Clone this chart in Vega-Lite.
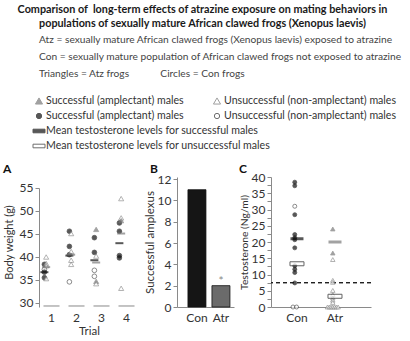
{
  "$schema": "https://vega.github.io/schema/vega-lite/v6.json",
  "padding": {"left": 3, "top": 4, "right": 0, "bottom": 0},
  "background": "white",
  "config": {
    "view": {"stroke": null},
    "font": "Lato",
    "axis": {"labelFont": "Lato", "titleFont": "Lato", "labelColor": "#333", "titleColor": "#333", "domainColor": "#8a8a8a", "tickColor": "#8a8a8a", "grid": false, "titleFontWeight": "normal", "labelFontSize": 12, "titleFontSize": 11.5, "tickSize": 4, "labelPadding": 2},
    "title": {"font": "Lato"}
  },
  "title": {
    "text": ["Comparison of \u00a0long-term effects of atrazine exposure on mating behaviors in", "populations of sexually mature African clawed frogs (Xenopus laevis)"],
    "anchor": "middle", "fontSize": 10.8, "fontWeight": "bold", "color": "#1a1a1a", "lineHeight": 13.5, "offset": 6
  },
  "datasets": {
    "legend": [
      {"row": 1, "col": 1, "sym": "AtzS", "label": "Successful (amplectant) males"},
      {"row": 1, "col": 2, "sym": "AtzU", "label": "Unsuccessful (non-amplectant) males"},
      {"row": 2, "col": 1, "sym": "ConS", "label": "Successful (amplectant) males"},
      {"row": 2, "col": 2, "sym": "ConU", "label": "Unsuccessful (non-amplectant) males"},
      {"row": 3, "col": 1, "sym": "MeanS", "label": "Mean testosterone levels for successful males"},
      {"row": 4, "col": 1, "sym": "MeanU", "label": "Mean testosterone levels for unsuccessful males"}
    ],
    "a_points": [
      {"trial": 1, "group": "Con", "sym": "ConS", "weight": 38.4},
      {"trial": 1, "group": "Con", "sym": "ConU", "weight": 37.3},
      {"trial": 1, "group": "Con", "sym": "ConS", "weight": 36.7},
      {"trial": 1, "group": "Con", "sym": "ConS", "weight": 35.5},
      {"trial": 1, "group": "Atz", "sym": "AtzU", "weight": 40.0},
      {"trial": 1, "group": "Atz", "sym": "AtzU", "weight": 38.6},
      {"trial": 1, "group": "Atz", "sym": "AtzU", "weight": 38.1},
      {"trial": 1, "group": "Atz", "sym": "AtzU", "weight": 35.3},
      {"trial": 2, "group": "Con", "sym": "ConS", "weight": 45.6},
      {"trial": 2, "group": "Con", "sym": "ConS", "weight": 42.3},
      {"trial": 2, "group": "Con", "sym": "ConS", "weight": 40.5},
      {"trial": 2, "group": "Con", "sym": "ConU", "weight": 34.6},
      {"trial": 2, "group": "Atz", "sym": "AtzU", "weight": 45.1},
      {"trial": 2, "group": "Atz", "sym": "AtzU", "weight": 41.2},
      {"trial": 2, "group": "Atz", "sym": "AtzU", "weight": 39.3},
      {"trial": 2, "group": "Atz", "sym": "AtzU", "weight": 38.4},
      {"trial": 3, "group": "Con", "sym": "ConS", "weight": 44.2},
      {"trial": 3, "group": "Con", "sym": "ConS", "weight": 41.0},
      {"trial": 3, "group": "Con", "sym": "ConU", "weight": 37.1},
      {"trial": 3, "group": "Con", "sym": "ConU", "weight": 35.8},
      {"trial": 3, "group": "Atz", "sym": "AtzS", "weight": 46.0},
      {"trial": 3, "group": "Atz", "sym": "AtzU", "weight": 40.2},
      {"trial": 3, "group": "Atz", "sym": "AtzS", "weight": 34.7},
      {"trial": 3, "group": "Atz", "sym": "AtzU", "weight": 34.2},
      {"trial": 4, "group": "Con", "sym": "ConS", "weight": 47.4},
      {"trial": 4, "group": "Con", "sym": "ConS", "weight": 45.6},
      {"trial": 4, "group": "Con", "sym": "ConS", "weight": 40.3},
      {"trial": 4, "group": "Con", "sym": "ConS", "weight": 39.8},
      {"trial": 4, "group": "Atz", "sym": "AtzU", "weight": 52.7},
      {"trial": 4, "group": "Atz", "sym": "AtzU", "weight": 48.5},
      {"trial": 4, "group": "Atz", "sym": "AtzS", "weight": 47.9},
      {"trial": 4, "group": "Atz", "sym": "AtzU", "weight": 33.2}
    ],
    "a_means": [
      {"trial": 1, "group": "Con", "sym": "ConS", "weight": 36.7},
      {"trial": 1, "group": "Atz", "sym": "AtzS", "weight": 37.8},
      {"trial": 2, "group": "Con", "sym": "ConS", "weight": 40.3},
      {"trial": 2, "group": "Atz", "sym": "AtzS", "weight": 40.5},
      {"trial": 3, "group": "Con", "sym": "ConS", "weight": 39.3},
      {"trial": 3, "group": "Atz", "sym": "AtzS", "weight": 38.8},
      {"trial": 4, "group": "Con", "sym": "ConS", "weight": 43.0},
      {"trial": 4, "group": "Atz", "sym": "AtzS", "weight": 45.1}
    ],
    "b": [
      {"cat": "Con", "n": 11, "sig": ""},
      {"cat": "Atr", "n": 2, "sig": "*"}
    ],
    "c_points": [
      {"group": "Con", "sym": "ConS", "t": 38.4, "tie": 4},
      {"group": "Con", "sym": "ConS", "t": 37.3, "tie": 4},
      {"group": "Con", "sym": "ConS", "t": 28.4, "tie": 4},
      {"group": "Con", "sym": "ConS", "t": 22.3, "tie": 4},
      {"group": "Con", "sym": "ConS", "t": 21.3, "tie": 4},
      {"group": "Con", "sym": "ConS", "t": 20.7, "tie": 4},
      {"group": "Con", "sym": "ConS", "t": 18.2, "tie": 4},
      {"group": "Con", "sym": "ConS", "t": 12.7, "tie": 4},
      {"group": "Con", "sym": "ConS", "t": 11.6, "tie": 4},
      {"group": "Con", "sym": "ConS", "t": 10.6, "tie": 4},
      {"group": "Con", "sym": "ConS", "t": 7.4, "tie": 4},
      {"group": "Con", "sym": "ConU", "t": 31.0, "tie": 4},
      {"group": "Con", "sym": "ConU", "t": 0, "tie": 3},
      {"group": "Con", "sym": "ConU", "t": 0, "tie": 5},
      {"group": "Atr", "sym": "AtzS", "t": 24.0, "tie": 4},
      {"group": "Atr", "sym": "AtzS", "t": 16.6, "tie": 4},
      {"group": "Atr", "sym": "AtzU", "t": 14.6, "tie": 4},
      {"group": "Atr", "sym": "AtzU", "t": 8.2, "tie": 4},
      {"group": "Atr", "sym": "AtzU", "t": 7.6, "tie": 4},
      {"group": "Atr", "sym": "AtzU", "t": 5.1, "tie": 4},
      {"group": "Atr", "sym": "AtzU", "t": 3.8, "tie": 4},
      {"group": "Atr", "sym": "AtzU", "t": 2.8, "tie": 4},
      {"group": "Atr", "sym": "AtzU", "t": 2.1, "tie": 4},
      {"group": "Atr", "sym": "AtzU", "t": 1.4, "tie": 4},
      {"group": "Atr", "sym": "AtzU", "t": 0, "tie": 1},
      {"group": "Atr", "sym": "AtzU", "t": 0, "tie": 2},
      {"group": "Atr", "sym": "AtzU", "t": 0, "tie": 3},
      {"group": "Atr", "sym": "AtzU", "t": 0, "tie": 4},
      {"group": "Atr", "sym": "AtzU", "t": 0, "tie": 5},
      {"group": "Atr", "sym": "AtzU", "t": 0, "tie": 6},
      {"group": "Atr", "sym": "AtzU", "t": 0, "tie": 7}
    ],
    "c_means": [
      {"group": "Con", "sym": "ConS", "status": "S", "t": 21.0},
      {"group": "Con", "sym": "ConU", "status": "U", "t": 13.3},
      {"group": "Atr", "sym": "AtzS", "status": "S", "t": 20.0},
      {"group": "Atr", "sym": "AtzU", "status": "U", "t": 3.3}
    ]
  },
  "spacing": 11,
  "vconcat": [
    {
      "width": 178,
      "height": 45,
      "title": {
        "text": ["Atz = sexually mature African clawed frogs (Xenopus laevis) exposed to atrazine", "Con = sexually mature population of African clawed frogs not exposed to atrazine", "Triangles = Atz frogs\u00a0\u00a0\u00a0\u00a0\u00a0\u00a0\u00a0\u00a0\u00a0\u00a0\u00a0 Circles = Con frogs"],
        "anchor": "start", "frame": "group", "fontSize": 10.2, "fontWeight": "normal", "color": "#444", "lineHeight": 17, "offset": 17
      },
      "data": {"name": "legend"},
      "encoding": {
        "x": {"field": "col", "type": "ordinal", "scale": {"type": "point", "padding": 0}, "axis": null},
        "y": {"field": "row", "type": "ordinal", "scale": {"type": "point", "padding": 0}, "axis": null}
      },
      "layer": [
        {
          "transform": [{"filter": "datum.row === 1"}],
          "mark": {"type": "point", "shape": "triangle-up", "filled": true, "size": 50, "strokeWidth": 1},
          "encoding": {
            "fill": {"field": "sym", "type": "nominal", "scale": {"domain": ["ConS", "ConU", "AtzS", "AtzU", "MeanS", "MeanU"], "range": ["#111111", "#ffffff", "#7a7a7a", "#ffffff", "#111111", "#ffffff"]}, "legend": null},
            "stroke": {"field": "sym", "type": "nominal", "scale": {"domain": ["ConS", "ConU", "AtzS", "AtzU", "MeanS", "MeanU"], "range": ["#111111", "#333333", "#777777", "#777777", "#111111", "#333333"]}, "legend": null}
          }
        },
        {
          "transform": [{"filter": "datum.row === 2"}],
          "mark": {"type": "point", "shape": "circle", "filled": true, "size": 28, "strokeWidth": 1},
          "encoding": {
            "fill": {"field": "sym", "type": "nominal", "legend": null},
            "stroke": {"field": "sym", "type": "nominal", "legend": null}
          }
        },
        {
          "transform": [{"filter": "datum.row >= 3"}],
          "mark": {"type": "point", "shape": "M-1,-0.3H1V0.3H-1Z", "filled": true, "size": 144, "strokeWidth": 1},
          "encoding": {
            "fill": {"field": "sym", "type": "nominal", "legend": null},
            "stroke": {"field": "sym", "type": "nominal", "legend": null}
          }
        },
        {
          "mark": {"type": "text", "align": "left", "baseline": "middle", "dx": 7, "fontSize": 10.6, "color": "#333", "font": "Lato"},
          "encoding": {"text": {"field": "label", "type": "nominal"}}
        }
      ]
    },
    {
      "spacing": 5,
      "hconcat": [
        {
          "width": 100,
          "height": 130,
          "title": {"text": "A", "anchor": "start", "fontSize": 12, "fontWeight": "bold", "color": "#111", "offset": 1},
          "encoding": {
            "x": {"field": "trial", "type": "ordinal", "scale": {"type": "band", "paddingInner": 0.36, "paddingOuter": 0.18}, "axis": {"title": "Trial", "domain": false, "ticks": false, "labelPadding": 5, "labelAngle": 0, "titlePadding": 2}},
            "y": {"field": "weight", "type": "quantitative", "scale": {"domain": [29.13, 57.39], "nice": false, "zero": false}, "axis": {"values": [30, 35, 40, 45, 50, 55], "title": "Body weight (g)", "titleFontSize": 11, "titlePadding": 5, "domainDash": [119, 20]}}
          },
          "layer": [
            {
              "data": {"name": "a_means"},
              "transform": [{"filter": "datum.group === 'Con'"}],
              "mark": {"type": "tick", "color": "#555", "thickness": 1, "size": 16},
              "encoding": {"y": {"datum": 29.35, "type": "quantitative"}}
            },
            {
              "data": {"name": "a_points"},
              "transform": [{"filter": "datum.group === 'Con'"}],
              "mark": {"type": "point", "shape": "circle", "filled": true, "size": 22, "strokeWidth": 0.8},
              "encoding": {
                "xOffset": {"field": "group", "type": "nominal", "scale": {"domain": ["Con", "Atz"], "paddingInner": 0, "paddingOuter": 0}},
                "fill": {"field": "sym", "type": "nominal", "legend": null},
                "stroke": {"field": "sym", "type": "nominal", "legend": null}
              }
            },
            {
              "data": {"name": "a_points"},
              "transform": [{"filter": "datum.group === 'Atz'"}],
              "mark": {"type": "point", "shape": "triangle-up", "filled": true, "size": 26, "strokeWidth": 0.8},
              "encoding": {
                "xOffset": {"field": "group", "type": "nominal"},
                "fill": {"field": "sym", "type": "nominal", "legend": null},
                "stroke": {"field": "sym", "type": "nominal", "legend": null}
              }
            },
            {
              "data": {"name": "a_means"},
              "mark": {"type": "tick", "thickness": 2, "size": 8},
              "encoding": {
                "xOffset": {"field": "group", "type": "nominal"},
                "fill": {"field": "sym", "type": "nominal", "legend": null}
              }
            }
          ]
        },
        {
          "width": 57,
          "height": 130,
          "title": {"text": "B", "anchor": "start", "fontSize": 12, "fontWeight": "bold", "color": "#111", "offset": -3, "dx": 6},
          "data": {"name": "b"},
          "encoding": {
            "x": {"field": "cat", "type": "nominal", "sort": ["Con", "Atr"], "scale": {"paddingInner": 0.25, "paddingOuter": 0.3125, "align": 0.73}, "axis": {"title": null, "ticks": false, "labelAngle": 0, "labelPadding": 5}},
            "y": {"field": "n", "type": "quantitative", "scale": {"domain": [0, 12.19], "nice": false}, "axis": {"values": [0, 2, 4, 6, 8, 10, 12], "title": "Successful amplexus", "titlePadding": 2}}
          },
          "layer": [
            {
              "mark": {"type": "bar", "stroke": "#111", "strokeWidth": 0.8},
              "encoding": {"color": {"field": "cat", "type": "nominal", "scale": {"domain": ["Con", "Atr"], "range": ["#151515", "#6b6b6b"]}, "legend": null}}
            },
            {
              "mark": {"type": "text", "baseline": "bottom", "dy": 2, "fontSize": 12, "color": "#888"},
              "encoding": {"text": {"field": "sig", "type": "nominal"}}
            }
          ]
        },
        {
          "width": 100,
          "height": 130,
          "title": {"text": "C", "anchor": "start", "fontSize": 12, "fontWeight": "bold", "color": "#111", "offset": -5},
          "encoding": {
            "x": {"field": "group", "type": "nominal", "sort": ["Con", "Atr"], "scale": {"domain": ["Con", "Atr"], "paddingInner": 0.37, "paddingOuter": 0.5, "align": 0.368}, "axis": {"title": null, "ticks": false, "labelAngle": 0, "labelPadding": 5}},
            "y": {"field": "t", "type": "quantitative", "scale": {"domain": [0, 40], "nice": false}, "axis": {"values": [0, 2.5, 5, 7.5, 10, 12.5, 15, 17.5, 20, 22.5, 25, 27.5, 30, 32.5, 35, 37.5, 40], "labelExpr": "datum.value % 5 === 0 ? datum.label : ''", "labelOverlap": false, "title": "Testosterone (Ng/ml)", "titleFontSize": 10.3, "titlePadding": 2}}
          },
          "layer": [
            {
              "data": {"name": "c_means"},
              "mark": {"type": "rule", "strokeDash": [4, 3], "color": "#222", "strokeWidth": 1},
              "encoding": {"x": null, "y": {"datum": 7.5, "type": "quantitative"}}
            },
            {
              "data": {"name": "c_points"},
              "transform": [{"filter": "datum.group === 'Con'"}],
              "mark": {"type": "point", "shape": "circle", "filled": true, "size": 16, "strokeWidth": 0.8},
              "encoding": {
                "xOffset": {"field": "tie", "type": "ordinal", "scale": {"domain": [1, 2, 3, 4, 5, 6, 7], "paddingInner": 0, "paddingOuter": 0}},
                "fill": {"field": "sym", "type": "nominal", "legend": null},
                "stroke": {"field": "sym", "type": "nominal", "legend": null}
              }
            },
            {
              "data": {"name": "c_points"},
              "transform": [{"filter": "datum.group === 'Atr'"}],
              "mark": {"type": "point", "shape": "triangle-up", "filled": true, "size": 20, "strokeWidth": 0.8},
              "encoding": {
                "xOffset": {"field": "tie", "type": "ordinal"},
                "fill": {"field": "sym", "type": "nominal", "legend": null},
                "stroke": {"field": "sym", "type": "nominal", "legend": null}
              }
            },
            {
              "data": {"name": "c_means"},
              "transform": [{"filter": "datum.status === 'S'"}],
              "mark": {"type": "tick", "thickness": 3, "size": 13},
              "encoding": {"fill": {"field": "sym", "type": "nominal", "legend": null}}
            },
            {
              "data": {"name": "c_means"},
              "transform": [{"filter": "datum.status === 'U'"}],
              "mark": {"type": "tick", "thickness": 4, "size": 14, "fill": "white", "stroke": "#222", "strokeWidth": 1}
            }
          ]
        }
      ]
    }
  ]
}
